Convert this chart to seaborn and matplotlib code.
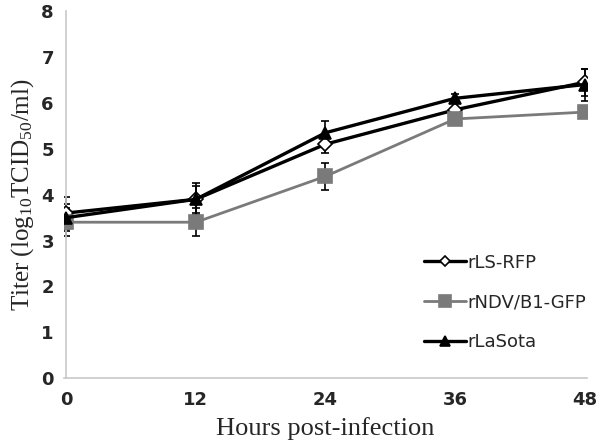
import pandas as pd
import matplotlib
matplotlib.use("Agg")
import matplotlib.pyplot as plt
import seaborn as sns

# Values
hours = [0, 12, 24, 36, 48]
rls_rfp = [3.6, 3.9, 5.1, 5.85, 6.45]
rls_rfp_err = [0.35, 0.3, 0.2, 0.15, 0.3]
rndv_gfp = [3.4, 3.4, 4.4, 5.65, 5.8]
rndv_gfp_err = [0.3, 0.3, 0.3, 0.1, 0.1]
rlasota = [3.5, 3.9, 5.35, 6.1, 6.4]
rlasota_err = [0.3, 0.35, 0.25, 0.1, 0.35]
series_names = ["rLS-RFP", "rNDV/B1-GFP", "rLaSota"]

df = pd.DataFrame({
    "hours": hours * 3,
    "titer": rls_rfp + rndv_gfp + rlasota,
    "err": rls_rfp_err + rndv_gfp_err + rlasota_err,
    "virus": sum([[n] * len(hours) for n in series_names], []),
})

sns.set_style("white")
plt.rcParams["mathtext.fontset"] = "custom"
plt.rcParams["mathtext.rm"] = "Liberation Serif"

fig = plt.figure(figsize=(6, 4.46), dpi=100)
ax = fig.add_axes([0.107, 0.152, 0.871, 0.823])

styles = {
    "rLS-RFP": dict(color="black", marker="D", mfc="white", mec="black", ms=7, lw=2.4),
    "rNDV/B1-GFP": dict(color="#7a7a7a", marker="s", mfc="#7a7a7a", mec="#7a7a7a", ms=10, lw=2.0),
    "rLaSota": dict(color="black", marker="^", mfc="black", mec="black", ms=9, lw=2.4),
}

for name in series_names:
    sub = df[df["virus"] == name]
    st = styles[name]
    ax.errorbar(sub["hours"], sub["titer"], yerr=sub["err"], fmt="none",
                ecolor="black", elinewidth=1.2, capsize=3, capthick=1.2, zorder=2)
    sns.lineplot(data=sub, x="hours", y="titer", ax=ax, label=name,
                 color=st["color"], lw=st["lw"], marker=st["marker"],
                 markerfacecolor=st["mfc"], markeredgecolor=st["mec"],
                 markersize=st["ms"], markeredgewidth=1.2, zorder=3)

ax.set_xticks(hours)
ax.set_yticks(range(0, 9))
ax.set_xlim(-0.2, 48.2)
ax.set_ylim(0, 8)

for s in ["top", "right"]:
    ax.spines[s].set_visible(False)
for s in ["left", "bottom"]:
    ax.spines[s].set_color("#c8c8c8")
    ax.spines[s].set_linewidth(1.2)
ax.spines["left"].set_position(("data", 0))
ax.tick_params(axis="both", direction="inout", length=6, color="#c8c8c8",
               width=1.2, labelsize=13, pad=6)
for lab in ax.get_yticklabels() + ax.get_xticklabels():
    lab.set_fontweight("bold")

ax.set_xlabel("Hours post-infection", fontsize=19, family="Liberation Serif", labelpad=6)
ax.set_ylabel(r"Titer (log$\mathregular{_{10}}$TCID$\mathregular{_{50}}$/ml)",
              fontsize=18, family="Liberation Serif", labelpad=4)

ax.legend(loc="lower right", bbox_to_anchor=(1.03, 0.03), frameon=False,
          fontsize=13, handlelength=2.3, labelspacing=1.2, handletextpad=0.1,
          markerscale=0.8)

fig.savefig("out.png", dpi=100)
